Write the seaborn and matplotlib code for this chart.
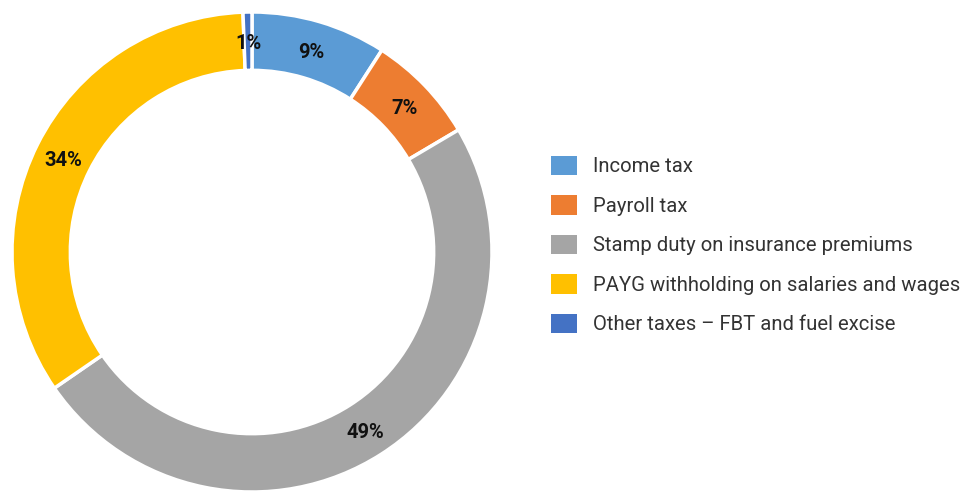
import matplotlib
matplotlib.use("Agg")
import matplotlib.pyplot as plt
import seaborn as sns
import numpy as np
from matplotlib.patches import Patch

categories = ["Income tax", "Payroll tax", "Stamp duty on insurance premiums",
              "PAYG withholding on salaries and wages", "Other taxes \u2013 FBT and fuel excise"]
values = [9.1, 7.4, 48.9, 34.0, 0.6]
pct_labels = ["9%", "7%", "49%", "34%", "1%"]
colors = ["#5B9BD5", "#ED7D31", "#A5A5A5", "#FFC000", "#4472C4"]

sns.set_theme(style="white")
plt.rcParams["font.family"] = ["Roboto", "DejaVu Sans"]

W, H = 964, 491
fig = plt.figure(figsize=(W / 100, H / 100), dpi=100)
fig.patch.set_facecolor("white")

cx, cy, R = 252, 252, 240
ax = fig.add_axes([(cx - R) / W, (H - cy - R) / H, 2 * R / W, 2 * R / H])

wedges, _ = ax.pie(values, colors=sns.color_palette(colors), startangle=90, counterclock=False,
                   radius=1.0, wedgeprops=dict(width=0.243, edgecolor="white", linewidth=2.5))
ax.set_xlim(-1, 1)
ax.set_ylim(-1, 1)
ax.set_aspect("equal")
ax.axis("off")

cum = np.cumsum([0] + values[:-1])
total = sum(values)
label_r = 0.88
for v, c, lab in zip(values, cum, pct_labels):
    mid = 90 - 360 * (c + v / 2) / total
    th = np.deg2rad(mid)
    ax.text(label_r * np.cos(th), label_r * np.sin(th) - 0.012, lab, ha="center", va="center",
            fontsize=14.5, fontweight="bold", color="#111111")

handles = [Patch(facecolor=c, edgecolor="none") for c in colors]
fig.legend(handles, categories, loc="center left", bbox_to_anchor=(551 / W, 1 - 245 / H),
           frameon=False, fontsize=14.6, handlelength=1.3, handleheight=1.1,
           handletextpad=0.75, labelspacing=0.93, borderpad=0, borderaxespad=0,
           labelcolor="#333333")

fig.savefig("out.png", dpi=100, facecolor="white")
